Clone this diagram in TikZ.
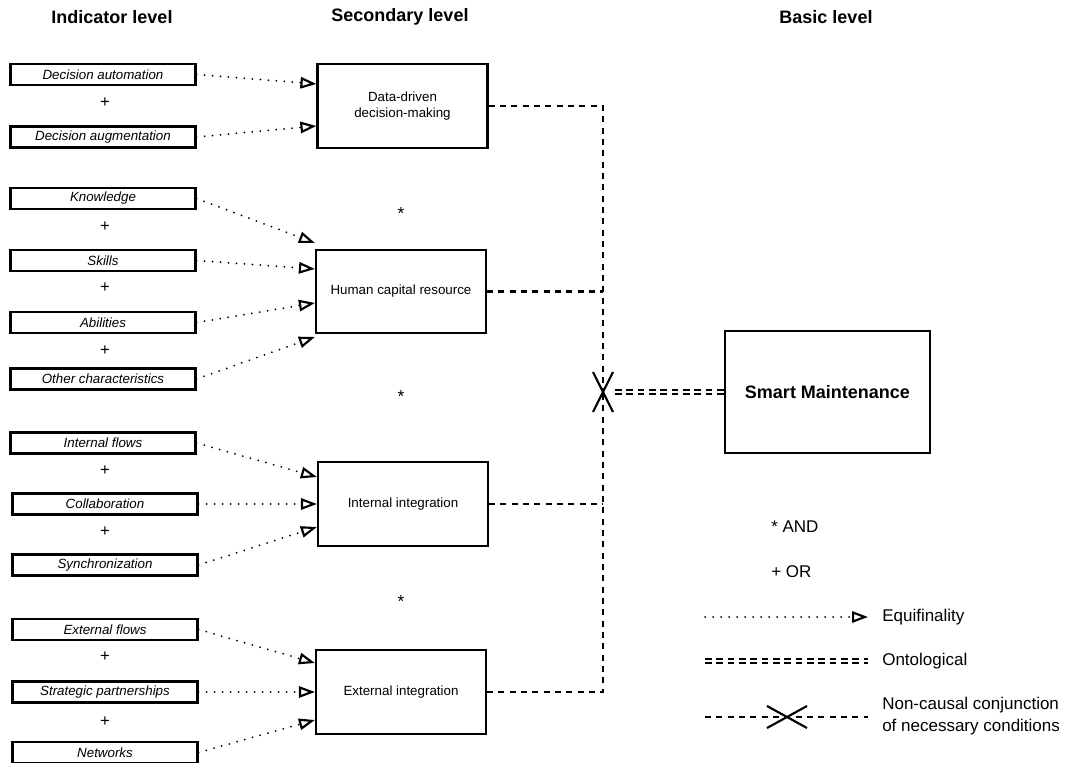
\documentclass[tikz,border=0pt]{standalone}
\usepackage{fontspec}
\setmainfont{Liberation Sans}
\usetikzlibrary{arrows.meta}

\begin{document}
\begin{tikzpicture}[x=0.75pt,y=-0.75pt,
    indbox/.style={draw,line width=1.6pt,minimum width=138.75pt,minimum height=15.75pt,inner sep=0pt,font=\fontsize{10}{12}\selectfont\itshape},
    secbox/.style={draw,line width=1.6pt,minimum width=127.5pt,minimum height=62.5pt,inner sep=0pt,align=center,font=\fontsize{10}{12}\selectfont},
    level/.style={font=\fontsize{13.5}{16}\selectfont\bfseries},
    op/.style={inner sep=0pt,font=\fontsize{12.5}{14}\selectfont},
    legtext/.style={anchor=west,inner sep=0pt,align=left,font=\fontsize{12.75}{16.5}\selectfont},
    equi/.style={line width=1.5pt,line cap=round,dash pattern=on 0pt off 6pt,-{Triangle[open,length=12pt,width=8.5pt,line width=1.6pt]}},
    nec/.style={line width=1.6pt,dash pattern=on 4.5pt off 4pt},
    onto/.style={double,double distance=2pt,line width=1.5pt,dash pattern=on 5pt off 3.5pt},
    cross/.style={line width=1.6pt}]
    \useasboundingbox (0,0) rectangle (1075,763);

    \node[level] (lind) at (112,17) {Indicator level};
    \node[level] (lsec) at (400,17) {Secondary level};
    \node[level] (lbas) at (826,17) {Basic level};

    \node[indbox] (dauto) at (103,74.5) {Decision automation};
    \node[indbox] (daug) at (103,137) {Decision augmentation};
    \node[indbox] (know) at (103,198.5) {Knowledge};
    \node[indbox] (skill) at (103,260.5) {Skills};
    \node[indbox] (abil) at (103,322.5) {Abilities};
    \node[indbox] (other) at (103,379) {Other characteristics};
    \node[indbox] (iflow) at (103,443) {Internal flows};
    \node[indbox] (collab) at (105,504) {Collaboration};
    \node[indbox] (sync) at (105,565) {Synchronization};
    \node[indbox] (eflow) at (105,629.5) {External flows};
    \node[indbox] (spart) at (105,692) {Strategic partnerships};
    \node[indbox] (netw) at (105,752.5) {Networks};
    \foreach \y in {103,227,288,351,471,532,657,722}
      \node[op] (plus\y) at (105,\y) {+};

    \node[secbox] (ddm) at (402.5,106) {Data-driven\\decision-making};
    \node[secbox] (hcr) at (401,291.5) {Human capital resource};
    \node[secbox] (ii) at (403,504) {Internal integration};
    \node[secbox] (ei) at (401,692) {External integration};
    \foreach \y in {214,397,602}
      \node[op,font=\fontsize{13}{14}\selectfont] (star\y) at (401,\y) {*};

    \node[draw,line width=1.6pt,minimum width=153.75pt,minimum height=91.5pt,font=\fontsize{13.5}{16}\selectfont\bfseries] (sm) at (827.5,392) {Smart Maintenance};

    \draw[equi] (dauto.east) -- ([yshift=16.5pt]ddm.west);
    \draw[equi] (daug.east) -- ([yshift=-15pt]ddm.west);
    \draw[equi] (know.east) -- ([yshift=36.4pt]hcr.west);
    \draw[equi] (skill.east) -- ([yshift=16.9pt]hcr.west);
    \draw[equi] (abil.east) -- ([yshift=-8.6pt]hcr.west);
    \draw[equi] (other.east) -- ([yshift=-34.1pt]hcr.west);
    \draw[equi] (iflow.east) -- ([yshift=20.25pt]ii.west);
    \draw[equi] (collab.east) -- (ii.west);
    \draw[equi] (sync.east) -- ([yshift=-17.25pt]ii.west);
    \draw[equi] (eflow.east) -- ([yshift=21.75pt]ei.west);
    \draw[equi] (spart.east) -- (ei.west);
    \draw[equi] (netw.east) -- ([yshift=-21pt]ei.west);

    \coordinate (jn) at (603,392);
    \draw[nec] (ddm.east) -| (jn);
    \draw[nec] (ei.east) -| (jn);
    \draw[nec] (hcr.east) -- (hcr.east -| jn);
    \draw[nec] (ii.east) -- (ii.east -| jn);
    \draw[cross] (jn) ++(-10,-20) -- ++(20,40) (jn) ++(10,-20) -- ++(-20,40);
    \draw[onto,shorten <=9pt] (jn) -- (sm);

    \node[legtext] (andt) at (771,527) {* AND};
    \node[legtext] (ort) at (771,572) {+ OR};
    \coordinate (eqa) at (705,617);
    \coordinate (eqb) at (868,617);
    \node[legtext] (eqt) at (882,617) {Equifinality};
    \draw[equi] (eqa) -- (eqb);
    \coordinate (ona) at (705,661);
    \coordinate (onb) at (868,661);
    \node[legtext] (ont) at (882,661) {Ontological};
    \draw[onto] (ona) -- (onb);
    \coordinate (nca) at (705,717);
    \coordinate (ncx) at (787,717);
    \coordinate (ncb) at (868,717);
    \node[legtext] (nct) at (882,716) {Non-causal conjunction\\of necessary conditions};
    \draw[nec] (nca) -- (ncb);
    \draw[cross] (ncx) ++(-20,-11) -- ++(40,22) (ncx) ++(20,-11) -- ++(-40,22);
  \end{tikzpicture}
\end{document}
